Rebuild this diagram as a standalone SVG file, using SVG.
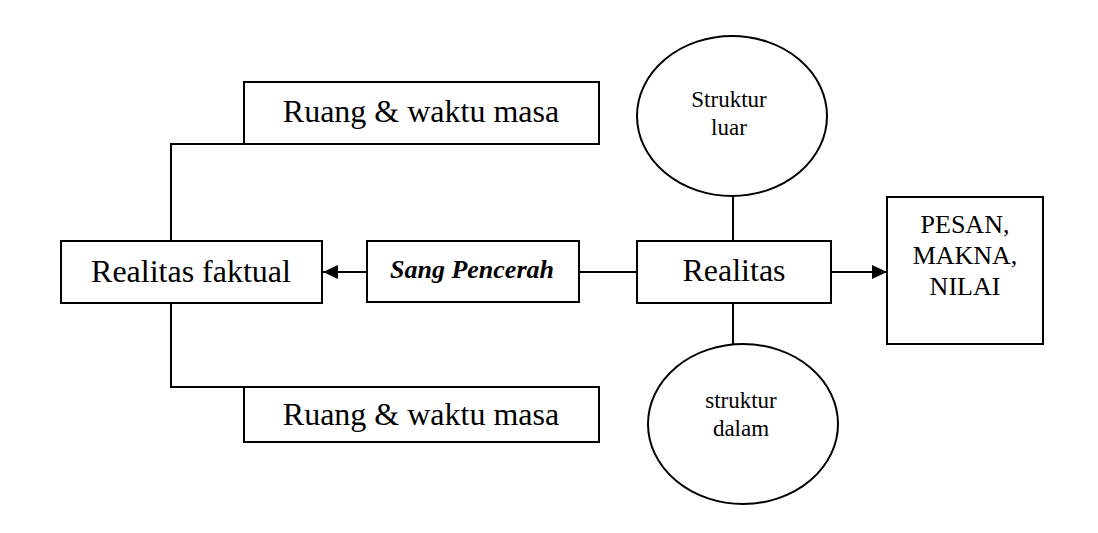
<svg xmlns="http://www.w3.org/2000/svg" width="1098" height="533" viewBox="0 0 1098 533">
<style>
.box{fill:#fff;stroke:#000;stroke-width:2}
.ell{fill:#fff;stroke:#000;stroke-width:2}
.ln{fill:none;stroke:#000;stroke-width:2}
.t{font-family:"Liberation Serif","Times New Roman",serif;fill:#000;text-anchor:middle}
.big{font-size:32px}
.mid{font-size:26px}
.sm{font-size:23px}
.bi{font-size:26px;font-weight:bold;font-style:italic}
</style>
<defs>
<marker id="ah" markerWidth="15" markerHeight="14" refX="15" refY="7" orient="auto" markerUnits="userSpaceOnUse">
<path d="M0,0 L15,7 L0,14 Z" fill="#000"/>
</marker>
</defs>
<g id="connectors">
<polyline class="ln" points="244,144 171,144 171,241"/>
<polyline class="ln" points="171,303 171,387 244,387"/>
<line class="ln" x1="367" y1="272" x2="323" y2="272" marker-end="url(#ah)"/>
<line class="ln" x1="579" y1="272" x2="637" y2="272"/>
<line class="ln" x1="733" y1="196" x2="733" y2="241"/>
<line class="ln" x1="733" y1="303" x2="733" y2="345"/>
<line class="ln" x1="831" y1="272" x2="887" y2="272" marker-end="url(#ah)"/>
</g>
<g id="ruang-top">
<rect class="box" x="244" y="82" width="355" height="62"/>
<text class="t big" x="421" y="122">Ruang &amp; waktu masa</text>
</g>
<g id="ruang-bottom">
<rect class="box" x="244" y="387" width="355" height="55"/>
<text class="t big" x="421" y="425">Ruang &amp; waktu masa</text>
</g>
<g id="realitas-faktual">
<rect class="box" x="61" y="241" width="261" height="62"/>
<text class="t big" x="191" y="282">Realitas faktual</text>
</g>
<g id="sang-pencerah">
<rect class="box" x="367" y="241" width="212" height="61"/>
<text class="t bi" x="472" y="278">Sang Pencerah</text>
</g>
<g id="realitas">
<rect class="box" x="637" y="241" width="194" height="62"/>
<text class="t big" x="734" y="281">Realitas</text>
</g>
<g id="struktur-luar">
<ellipse class="ell" cx="732" cy="116" rx="95" ry="80"/>
<text class="t sm" x="729" y="107">Struktur</text>
<text class="t sm" x="729" y="135">luar</text>
</g>
<g id="struktur-dalam">
<ellipse class="ell" cx="743" cy="424" rx="95" ry="80"/>
<text class="t sm" x="741" y="408">struktur</text>
<text class="t sm" x="741" y="436">dalam</text>
</g>
<g id="pesan">
<rect class="box" x="887" y="197" width="156" height="147"/>
<text class="t mid" x="965" y="233">PESAN,</text>
<text class="t mid" x="965" y="264">MAKNA,</text>
<text class="t mid" x="965" y="295">NILAI</text>
</g>
</svg>
